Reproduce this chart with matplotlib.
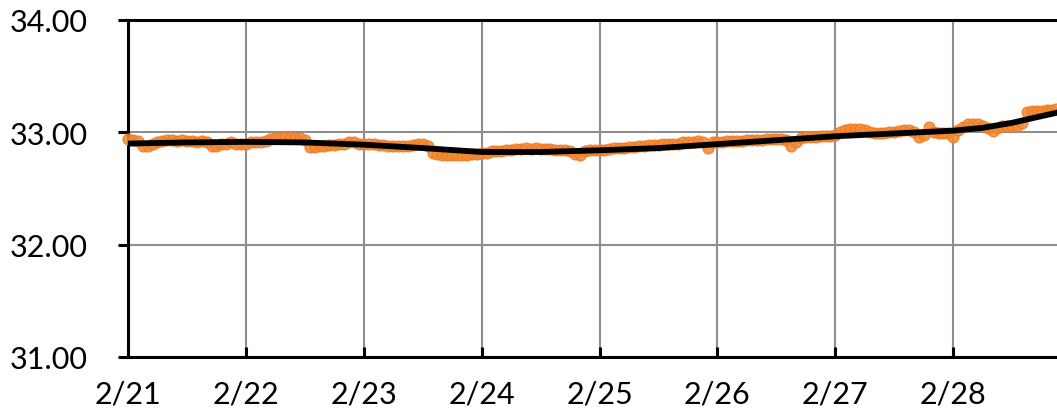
import numpy as np
import pandas as pd
import matplotlib
matplotlib.use("Agg")
import matplotlib.pyplot as plt
from matplotlib.ticker import FuncFormatter

# hourly readings starting 2/21 00:00
temp_2_21 = [32.94, 32.93, 32.92, 32.88, 32.88, 32.90, 32.91, 32.92, 32.93, 32.93, 32.92, 32.93,
             32.92, 32.92, 32.91, 32.92, 32.91, 32.88, 32.88, 32.90, 32.90, 32.91, 32.90, 32.90]
temp_2_22 = [32.90, 32.91, 32.91, 32.91, 32.92, 32.94, 32.95, 32.95, 32.96, 32.96, 32.95, 32.95,
             32.93, 32.87, 32.87, 32.88, 32.88, 32.89, 32.89, 32.90, 32.90, 32.91, 32.91, 32.90]
temp_2_23 = [32.90, 32.90, 32.90, 32.89, 32.89, 32.88, 32.88, 32.88, 32.88, 32.88, 32.89, 32.90,
             32.90, 32.88, 32.82, 32.81, 32.80, 32.80, 32.80, 32.80, 32.80, 32.80, 32.81, 32.81]
temp_2_24 = [32.82, 32.82, 32.83, 32.83, 32.83, 32.84, 32.84, 32.85, 32.85, 32.86, 32.85, 32.86,
             32.85, 32.85, 32.85, 32.84, 32.84, 32.84, 32.83, 32.81, 32.80, 32.83, 32.84, 32.84]
temp_2_25 = [32.84, 32.84, 32.85, 32.86, 32.86, 32.86, 32.87, 32.87, 32.88, 32.88, 32.89, 32.89,
             32.89, 32.90, 32.90, 32.90, 32.90, 32.91, 32.91, 32.91, 32.92, 32.91, 32.86, 32.91]
temp_2_26 = [32.91, 32.91, 32.92, 32.92, 32.92, 32.92, 32.93, 32.93, 32.93, 32.93, 32.94, 32.94,
             32.94, 32.94, 32.93, 32.88, 32.91, 32.95, 32.96, 32.96, 32.96, 32.97, 32.97, 32.97]
temp_2_27 = [32.98, 33.00, 33.02, 33.03, 33.03, 33.03, 33.02, 33.00, 32.99, 32.99, 32.99, 33.00,
             33.00, 33.01, 33.02, 33.02, 33.00, 32.96, 32.98, 33.05, 33.00, 32.99, 32.99, 32.99]
temp_2_28 = [32.96, 33.02, 33.05, 33.07, 33.07, 33.07, 33.06, 33.04, 33.01, 33.04, 33.06, 33.06,
             33.06, 33.06, 33.08, 33.18, 33.19, 33.19, 33.19, 33.20, 33.20, 33.21]

temps = temp_2_21 + temp_2_22 + temp_2_23 + temp_2_24 + temp_2_25 + temp_2_26 + temp_2_27 + temp_2_28
times = pd.date_range("2024-02-21 00:00", periods=len(temps), freq="h")

# smoothed trend
trend_days = [0, 0.5, 1.0, 1.5, 2.0, 2.5, 3.0, 3.5, 4.0, 4.5, 5.0, 5.5, 6.0, 6.5, 7.0, 7.25, 7.5, 7.9]
trend_vals = [32.90, 32.91, 32.915, 32.91, 32.89, 32.86, 32.825, 32.825, 32.84, 32.86, 32.895,
              32.93, 32.965, 32.99, 33.015, 33.04, 33.085, 33.18]
trend_times = pd.Timestamp("2024-02-21") + pd.to_timedelta(trend_days, unit="D")

day_labels = ["2/21", "2/22", "2/23", "2/24", "2/25", "2/26", "2/27", "2/28"]

plt.rcParams['font.family'] = ['Lato', 'DejaVu Sans']

fig = plt.figure(figsize=(10.57, 4.14), dpi=100)
ax = fig.add_axes([128 / 1057, 1 - 358 / 414, 1 - 128 / 1057, (358 - 21) / 414])

ax.scatter(times, temps, s=60, color='#F28A30', edgecolors='#EE7B22', linewidths=1.0,
           alpha=0.85, zorder=3, clip_on=False)
ax.plot(trend_times, trend_vals, color='black', lw=4.2, zorder=4, clip_on=False,
        solid_capstyle='butt')

ax.set_ylim(31, 34)
ax.set_yticks([31, 32, 33, 34])
ax.yaxis.set_major_formatter(FuncFormatter(lambda v, p: f"{v:.2f}"))
ax.set_xlim(pd.Timestamp("2024-02-21"), pd.Timestamp("2024-02-21") + pd.Timedelta(days=7.88))
ax.set_xticks(pd.date_range("2024-02-21", periods=len(day_labels), freq="D"))
ax.set_xticklabels(day_labels)

ax.grid(True, color='#8e8e8e', lw=1.5, zorder=0)
ax.set_axisbelow(True)
for s in ['left', 'bottom', 'top']:
    ax.spines[s].set_linewidth(2.2)
    ax.spines[s].set_color('black')
ax.spines['right'].set_visible(False)

ax.tick_params(axis='y', direction='out', length=7, width=2.2, pad=22, labelsize=22, colors='black')
ax.tick_params(axis='x', direction='in', length=7, width=2.2, pad=16, labelsize=22, colors='black')

fig.savefig("out.png", dpi=100)
